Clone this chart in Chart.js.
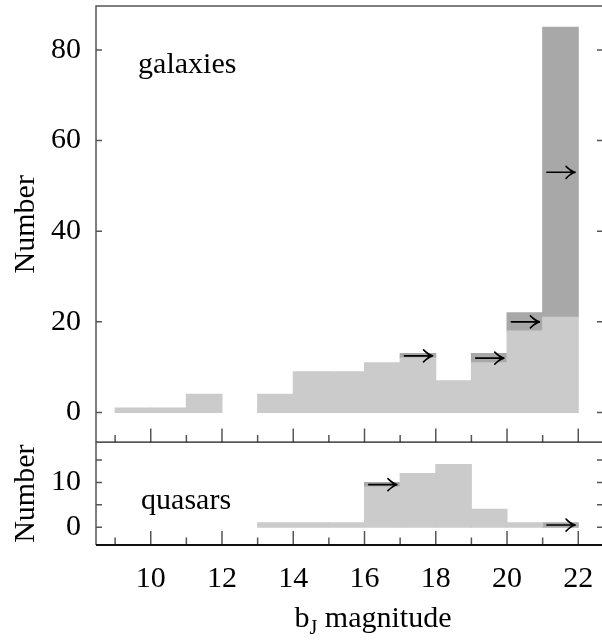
<!DOCTYPE html>
<html><head><meta charset="utf-8">
<script src="https://cdn.jsdelivr.net/npm/chart.js@4.4.1/dist/chart.umd.min.js"></script>
<style>
html,body{margin:0;padding:0;background:#fff;overflow:hidden;width:602px;height:642px;}
#wrap{position:relative;width:602px;height:642px;overflow:hidden;}
canvas{position:absolute;left:0;}
#c1{top:0}
#c2{top:442px}
</style></head><body>
<div id="wrap"><canvas id="c1" width="610" height="443"></canvas><canvas id="c2" width="610" height="200"></canvas></div>
<script>
// ---- data (bins of 1 mag, from 9 to 22) ----
const binCenters = [9.5,10.5,11.5,12.5,13.5,14.5,15.5,16.5,17.5,18.5,19.5,20.5,21.5];
const galaxiesMeasured = [1,1,4,0,4,9,9,11,12,7,11,18,21];
const galaxiesLimit    = [0,0,0,0,0,0,0,0,1,0,2,4,64];
const quasarsMeasured  = [0,0,0,0,1,1,1,9,12,14,4,1,0];
const quasarsLimit     = [0,0,0,0,0,0,0,1,0,0,0,0,1];
const xTickLabels = [10,12,14,16,18,20,22];
const xMinorTicks = [9,11,13,15,17,19,21];
const galaxyYTicks = [0,20,40,60,80];
const quasarYTickLabels = [0,10];
const quasarYTickMarks = [0,5,10,15];

const FONT = "'Liberation Serif','Times New Roman',serif";
const LIGHT = '#cbcbcb', DARK = '#a8a8a8';
const X_MIN = 8.4635, X_MAX = 22.694;

function pts(arr){ return binCenters.map((x,i)=>({x:x, y:(arr[i] === 0 ? null : arr[i])})); }

function panelPlugin(o){
  return {
    id:'panel'+o.name,
    afterDatasetsDraw(chart){
      const ctx = chart.ctx, xs = chart.scales.x, ys = chart.scales.y;
      ctx.save();
      ctx.strokeStyle = '#000'; ctx.lineWidth = 1.6; ctx.lineCap = 'round';
      binCenters.forEach((c,i)=>{
        if (o.limit[i] > 0){
          const yv = o.meas[i] + o.limit[i]/2;
          const x0 = xs.getPixelForValue(c-0.5+0.12), x1 = xs.getPixelForValue(c+0.5-0.09);
          const y = ys.getPixelForValue(yv);
          ctx.beginPath();
          ctx.moveTo(x0,y); ctx.lineTo(x1,y);
          ctx.moveTo(x1-9,y-6); ctx.quadraticCurveTo(x1-4,y-1,x1,y);
          ctx.moveTo(x1-9,y+6); ctx.quadraticCurveTo(x1-4,y+1,x1,y);
          ctx.stroke();
        }
      });
      ctx.restore();
      ctx.save();
      ctx.font = '30px ' + FONT; ctx.fillStyle = '#000';
      ctx.textAlign = 'left'; ctx.textBaseline = 'alphabetic';
      ctx.fillText(o.label, xs.getPixelForValue(o.labelPos[0]), ys.getPixelForValue(o.labelPos[1]));
      ctx.restore();
    },
    afterDraw(chart){
      const ctx = chart.ctx, a = chart.chartArea, xs = chart.scales.x, ys = chart.scales.y;
      ctx.save();
      ctx.strokeStyle = '#555'; ctx.lineWidth = 1.5;
      o.yMarks.forEach(v=>{
        const y = ys.getPixelForValue(v);
        ctx.beginPath();
        ctx.moveTo(a.left,y); ctx.lineTo(a.left+6,y);
        ctx.moveTo(a.right,y); ctx.lineTo(a.right-6,y);
        ctx.stroke();
      });
      xTickLabels.forEach(v=>{
        const x = xs.getPixelForValue(v);
        ctx.beginPath(); ctx.moveTo(x,a.bottom); ctx.lineTo(x,a.bottom-14); ctx.stroke();
      });
      xMinorTicks.forEach(v=>{
        const x = xs.getPixelForValue(v);
        ctx.beginPath(); ctx.moveTo(x,a.bottom); ctx.lineTo(x,a.bottom-7.5); ctx.stroke();
      });
      ctx.strokeStyle = '#555';
      ctx.beginPath();
      ctx.moveTo(a.left,a.bottom); ctx.lineTo(a.left,a.top); ctx.lineTo(a.right,a.top); ctx.lineTo(a.right,a.bottom);
      ctx.stroke();
      ctx.strokeStyle = '#111'; ctx.lineWidth = 2;
      ctx.beginPath(); ctx.moveTo(a.left,a.bottom); ctx.lineTo(a.right,a.bottom); ctx.stroke();
      if (o.xTitle){
        ctx.fillStyle = '#000'; ctx.textBaseline = 'alphabetic'; ctx.textAlign = 'left';
        const base = 184.7;
        ctx.font = '30px ' + FONT;
        const wb = ctx.measureText('b').width;
        const wm = ctx.measureText(' magnitude').width;
        ctx.font = '20px ' + FONT;
        const wj = ctx.measureText('J').width;
        const total = wb + wj + wm;
        let x = 373 - total/2;
        ctx.font = '30px ' + FONT; ctx.fillText('b', x, base); x += wb;
        ctx.font = '20px ' + FONT; ctx.fillText('J', x, base + 7); x += wj;
        ctx.font = '30px ' + FONT; ctx.fillText(' magnitude', x, base);
      }
      ctx.restore();
    }
  };
}

function makeChart(id, o){
  return new Chart(document.getElementById(id), {
    type:'bar',
    data:{ datasets:[
      {label:o.name+' measured', data:pts(o.meas), backgroundColor:LIGHT, borderWidth:0, barPercentage:1, categoryPercentage:1, inflateAmount:0.5},
      {label:o.name+' lower limit', data:pts(o.limit), backgroundColor:DARK, borderWidth:0, barPercentage:1, categoryPercentage:1, inflateAmount:0.5}
    ]},
    options:{
      responsive:false, animation:false, devicePixelRatio:1,
      layout:{padding:o.padding},
      plugins:{legend:{display:false}, tooltip:{enabled:false}},
      scales:{
        x:{type:'linear', min:X_MIN, max:X_MAX, stacked:true, offset:false, display:o.showX,
           afterBuildTicks(s){ s.ticks = xTickLabels.map(v=>({value:v})); },
           afterFit(s){ if (o.showX) s.height = 97; s.paddingLeft = 0; s.paddingRight = 0; },
           grid:{display:false, drawTicks:false, offset:false}, border:{display:false},
           ticks:{padding:16, color:'#000', font:{family:FONT, size:30}, maxRotation:0}},
        y:{min:o.yMin, max:o.yMax, stacked:true,
           afterBuildTicks(s){ s.ticks = o.yLabels.map(v=>({value:v})); },
           afterFit(s){ s.width = 96; s.paddingTop = 0; s.paddingBottom = 0; },
           grid:{display:false, drawTicks:false}, border:{display:false},
           ticks:{padding:15, color:'#000', font:{family:FONT, size:30}},
           title:{display:true, text:'Number', color:'#000', font:{family:FONT, size:30}, padding:{top:8,bottom:0}}}
      }
    },
    plugins:[panelPlugin(o)]
  });
}

makeChart('c1', {name:'galaxies', meas:galaxiesMeasured, limit:galaxiesLimit, yMin:-6.62, yMax:89.7,
  yLabels:galaxyYTicks, yMarks:galaxyYTicks, label:'galaxies', labelPos:[9.645,74.9],
  padding:{top:6, right:7, bottom:0.5, left:0}, showX:false});
makeChart('c2', {name:'quasars', meas:quasarsMeasured, limit:quasarsLimit, yMin:-3.94, yMax:18.94,
  yLabels:quasarYTickLabels, yMarks:quasarYTickMarks, label:'quasars', labelPos:[9.73,4.0],
  padding:{top:0.3, right:7, bottom:0, left:0}, showX:true, xTitle:true});
</script>
</body></html>
